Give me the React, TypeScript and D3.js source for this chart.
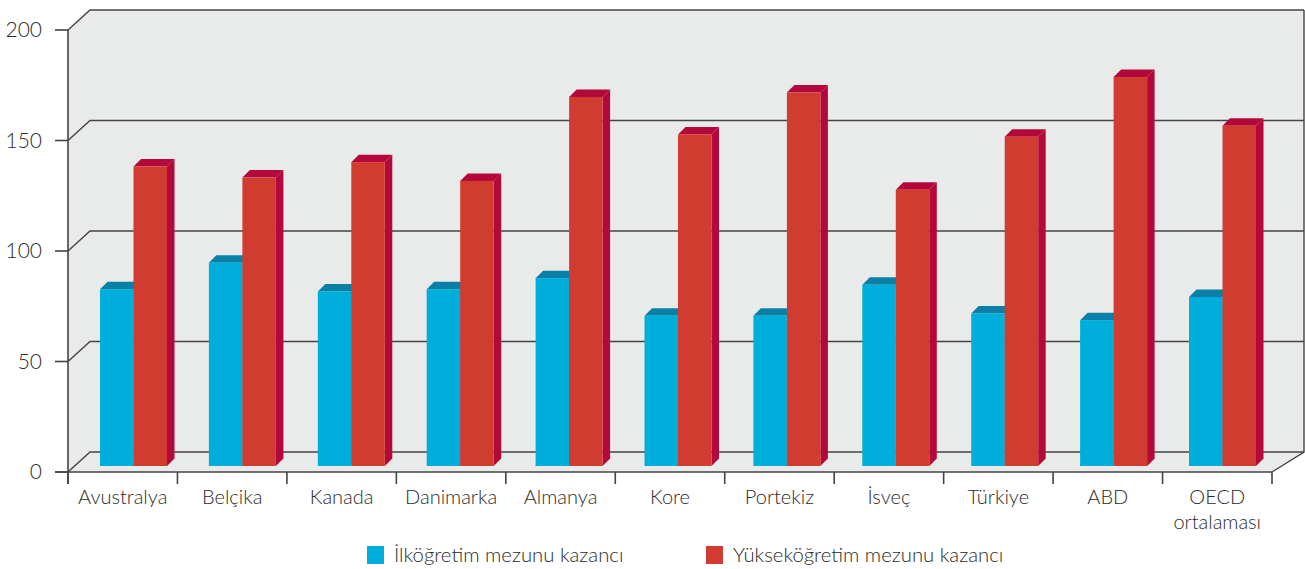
import { useEffect, useRef } from 'react'
import * as d3 from 'd3'

const categories = ['Avustralya', 'Belçika', 'Kanada', 'Danimarka', 'Almanya', 'Kore', 'Portekiz', 'İsveç', 'Türkiye', 'ABD', 'OECD ortalaması']
const primaryValues = [80, 92, 79, 80, 85, 68, 68, 82, 69, 66, 76.5]
const tertiaryValues = [135.5, 130.5, 137.5, 129, 167, 150, 169, 125, 149, 176, 154]
const yTicks = [0, 50, 100, 150, 200]
const seriesNames = ['İlköğretim mezunu kazancı', 'Yükseköğretim mezunu kazancı']

const W = 1305
const H = 569

export default function App() {
  const svgRef = useRef<SVGSVGElement>(null)

  useEffect(() => {
    if (!svgRef.current) return
    const svg = d3.select(svgRef.current)
    svg.selectAll('*').remove()

    const font = 'Lato, "Open Sans", sans-serif'
    const weight = 300
    const textColor = '#2b2b2b'
    const axisColor = '#444'

    // front plane
    const left = 68
    const right = 1272
    const y = d3.scaleLinear().domain([0, 200]).range([472, 30])
    const x = d3.scaleBand<string>().domain(categories).range([left, right])

    // depth offsets of back wall
    const backDxL = 22
    const backDxR = 32
    const backDy = -20
    const backLeft = left + backDxL
    const backRight = right + backDxR

    // wall + floor fill
    svg.append('path')
      .attr('d', `M${left},${y(0)} L${left},${y(200)} L${backLeft - 1},${y(200) + backDy} L${backRight},${y(200) + backDy} L${backRight},${y(0) + backDy} L${right},${y(0)} Z`)
      .attr('fill', '#e9eaea')

    // grid lines on back wall
    yTicks.forEach(t => {
      const yy = y(t)
      svg.append('path')
        .attr('d', `M${left},${yy} L${backLeft},${yy + backDy} L${backRight},${yy + backDy}`)
        .attr('fill', 'none')
        .attr('stroke', axisColor)
        .attr('stroke-width', 1.4)
    })

    // right back edge + floor right diagonal
    svg.append('path')
      .attr('d', `M${backRight},${y(200) + backDy} L${backRight},${y(0) + backDy} L${right},${y(0)}`)
      .attr('fill', 'none')
      .attr('stroke', axisColor)
      .attr('stroke-width', 1.4)

    // left axis
    svg.append('line')
      .attr('x1', left).attr('x2', left)
      .attr('y1', y(200)).attr('y2', y(0) + 12)
      .attr('stroke', axisColor).attr('stroke-width', 1.6)

    // front bottom line
    svg.append('line')
      .attr('x1', left - 13).attr('x2', right)
      .attr('y1', y(0)).attr('y2', y(0))
      .attr('stroke', axisColor).attr('stroke-width', 1.6)

    // y ticks + labels
    yTicks.forEach(t => {
      svg.append('line')
        .attr('x1', left - 13).attr('x2', left)
        .attr('y1', y(t)).attr('y2', y(t))
        .attr('stroke', axisColor).attr('stroke-width', 1.6)
      svg.append('text')
        .attr('x', 42).attr('y', y(t))
        .attr('dy', '0.35em')
        .attr('text-anchor', 'end')
        .attr('font-family', font)
        .attr('font-weight', weight)
        .attr('font-size', 21)
        .attr('fill', textColor)
        .text(t)
    })

    // category ticks
    const bounds = [...categories.map(c => x(c)!), right]
    bounds.forEach(b => {
      svg.append('line')
        .attr('x1', b).attr('x2', b)
        .attr('y1', y(0)).attr('y2', y(0) + 12)
        .attr('stroke', axisColor).attr('stroke-width', 1.6)
    })

    // category labels
    categories.forEach(c => {
      const words = c === 'OECD ortalaması' ? ['OECD', 'ortalaması'] : [c]
      const txt = svg.append('text')
        .attr('x', x(c)! + x.bandwidth() / 2)
        .attr('y', 504)
        .attr('text-anchor', 'middle')
        .attr('font-family', font)
        .attr('font-weight', weight)
        .attr('font-size', 20)
        .attr('fill', textColor)
      words.forEach((w, i) => {
        txt.append('tspan')
          .attr('x', x(c)! + x.bandwidth() / 2)
          .attr('dy', i === 0 ? 0 : 25)
          .text(w)
      })
    })

    // bars, drawn on a plane a little behind the front
    const barX = d3.scaleBand<string>().domain(categories).range([left + 32, left + 32 + 11 * 108.9])
    const barW = 33.5
    const depth = 7.5
    const yBar = (v: number) => y(v) - 6
    const y0 = yBar(0)

    const drawBar = (bx: number, v: number, front: string, top: string) => {
      const yt = yBar(v)
      const g = svg.append('g')
      g.append('path')
        .attr('d', `M${bx + barW},${yt} L${bx + barW + depth},${yt - depth} L${bx + barW + depth},${y0 - depth} L${bx + barW},${y0} Z`)
        .attr('fill', top)
      g.append('path')
        .attr('d', `M${bx},${yt} L${bx + depth},${yt - depth} L${bx + barW + depth},${yt - depth} L${bx + barW},${yt} Z`)
        .attr('fill', top)
      g.append('rect')
        .attr('x', bx).attr('y', yt)
        .attr('width', barW).attr('height', y0 - yt)
        .attr('fill', front)
    }

    categories.forEach((c, i) => {
      const bx = barX(c)!
      drawBar(bx, primaryValues[i], '#00aedb', '#0a80a6')
      drawBar(bx + barW, tertiaryValues[i], '#d13c31', '#b4083a')
    })

    // legend
    const legendItems = [
      { name: seriesNames[0], color: '#00aedb', x: 367 },
      { name: seriesNames[1], color: '#d13c31', x: 706 },
    ]
    legendItems.forEach(item => {
      svg.append('rect')
        .attr('x', item.x).attr('y', 546)
        .attr('width', 17).attr('height', 18)
        .attr('fill', item.color)
      svg.append('text')
        .attr('x', item.x + 27).attr('y', 562)
        .attr('font-family', font)
        .attr('font-weight', weight)
        .attr('font-size', 20.3)
        .attr('fill', textColor)
        .text(item.name)
    })
  }, [])

  return (
    <svg
      ref={svgRef}
      width={W}
      height={H}
      style={{ position: 'absolute', left: 0, top: 0, background: '#fff' }}
    />
  )
}
